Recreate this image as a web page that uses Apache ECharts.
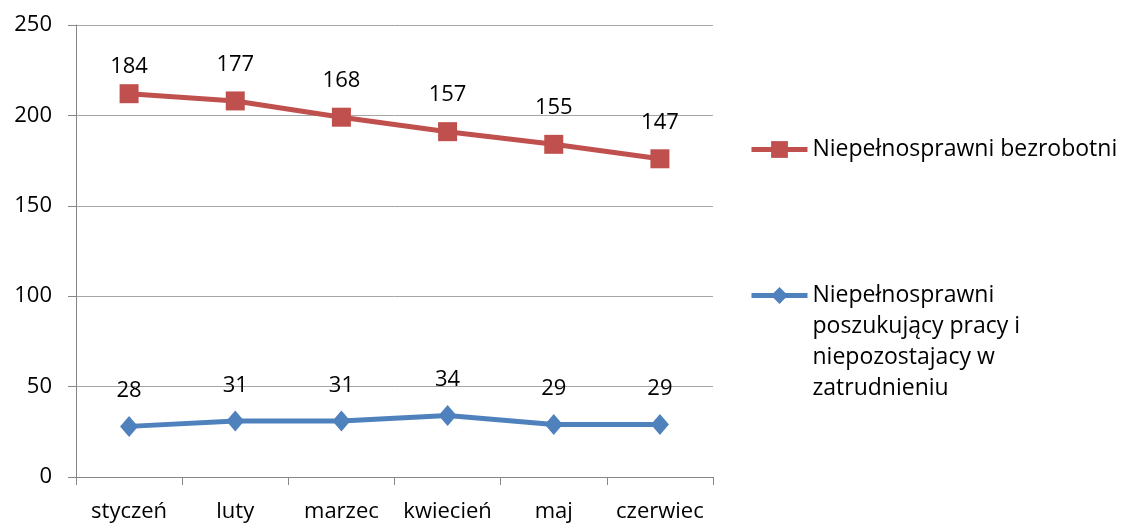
<!DOCTYPE html>
<html>
<head>
<meta charset="utf-8">
<script src="https://cdn.jsdelivr.net/npm/echarts@6/dist/echarts.min.js"></script>
<style>
  html, body { margin: 0; padding: 0; background: #fff; }
  #chart { width: 1122px; height: 524px; }
</style>
</head>
<body>
<div id="chart"></div>
<script>
const months = ['styczeń', 'luty', 'marzec', 'kwiecień', 'maj', 'czerwiec']
const bezrobotni = [184, 177, 168, 157, 155, 147]
const poszukujacy = [28, 31, 31, 34, 29, 29]
const nameRed = 'Niepełnosprawni bezrobotni'
const nameBlue = 'Niepełnosprawni poszukujący pracy i niepozostajacy w zatrudnieniu'

const font = '"Open Sans", "DejaVu Sans", sans-serif'
const chart = echarts.init(document.getElementById('chart'))

// pierwsza etykieta w oryginale siedzi niżej
const redData = bezrobotni.map((v, i) => i === 0 ? {value: v, label: {distance: 6}} : v)

const legendText = {fontFamily: font, fontSize: 23, color: '#000', lineHeight: 31}

const option = {
  backgroundColor: '#fff',
  animation: false,
  textStyle: {fontFamily: font},
  grid: {left: 76, right: 409, top: 25, bottom: 47, outerBoundsMode: 'none'},
  legend: [{
    data: [nameRed],
    left: 744,
    top: 129,
    itemWidth: 56,
    itemHeight: 21,
    lineStyle: {width: 5},
    textStyle: legendText
  }, {
    data: [nameBlue],
    left: 744,
    top: 182,
    itemWidth: 56,
    itemHeight: 21,
    lineStyle: {width: 5},
    // puste linie na gorze, zeby ikona stala przy pierwszej linii tekstu
    formatter: () => '\n\n\nNiepełnosprawni\nposzukujący pracy i\nniepozostajacy w\nzatrudnieniu',
    textStyle: legendText
  }],
  xAxis: {
    type: 'category',
    data: months,
    boundaryGap: true,
    axisLine: {show: true, lineStyle: {color: '#868686', width: 1}},
    axisTick: {show: true, length: 8, lineStyle: {color: '#868686'}},
    axisLabel: {color: '#000', fontSize: 22, fontFamily: font, margin: 24, interval: 0}
  },
  yAxis: {
    type: 'value',
    min: 0,
    max: 250,
    interval: 50,
    axisLine: {show: true, lineStyle: {color: '#868686', width: 1}},
    axisTick: {show: true, length: 8, lineStyle: {color: '#868686'}},
    axisLabel: {color: '#000', fontSize: 22, fontFamily: font, margin: 24},
    splitLine: {show: true, lineStyle: {color: '#a6a6a6', width: 1}}
  },
  series: [{
    name: nameBlue,
    type: 'line',
    stack: 'total',
    data: poszukujacy,
    symbol: 'diamond',
    symbolSize: [18, 21],
    color: '#4F81BD',
    lineStyle: {width: 5, color: '#4F81BD'},
    itemStyle: {color: '#4F81BD'},
    label: {show: true, position: 'top', distance: 14, color: '#000', fontSize: 22, fontFamily: font}
  }, {
    name: nameRed,
    type: 'line',
    stack: 'total',
    data: redData,
    symbol: 'rect',
    symbolSize: 19,
    color: '#C0504D',
    lineStyle: {width: 5, color: '#C0504D'},
    itemStyle: {color: '#C0504D'},
    label: {show: true, position: 'top', distance: 16, color: '#000', fontSize: 22, fontFamily: font}
  }]
}

chart.setOption(option)
</script>
</body>
</html>
